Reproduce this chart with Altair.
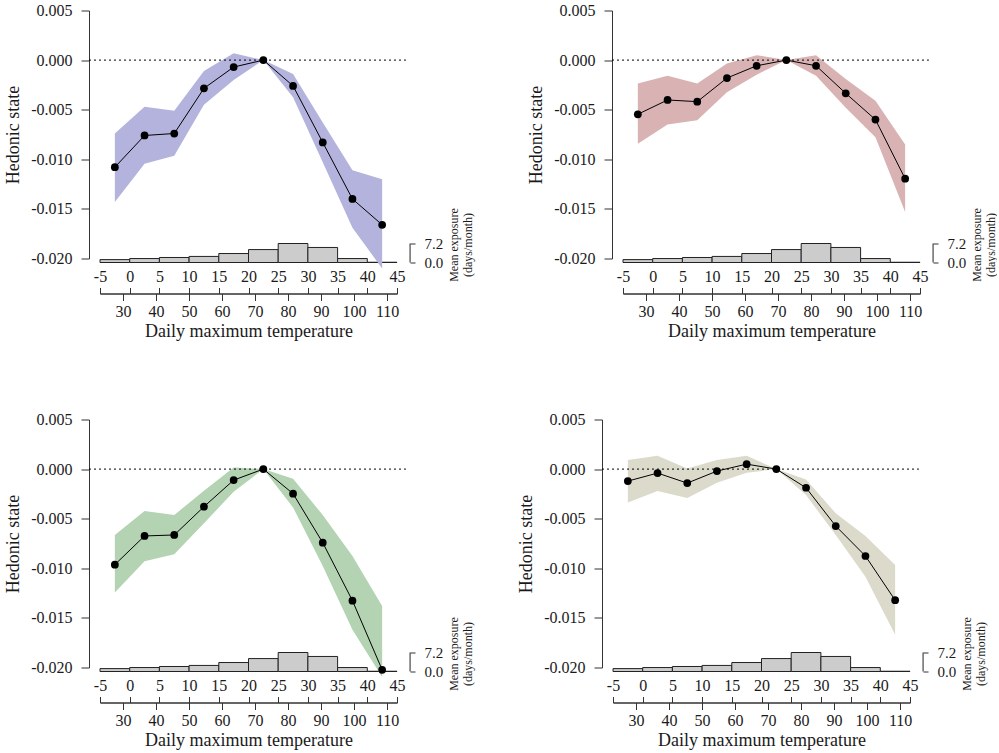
import altair as alt
import pandas as pd

# Temperature bins (daily maximum, degrees C) and their centres
bin_lo = [-5, 0, 5, 10, 15, 20, 25, 30, 35, 40]
bin_hi = [0, 5, 10, 15, 20, 25, 30, 35, 40, 45]
bin_mid = [-2.5, 2.5, 7.5, 12.5, 17.5, 22.5, 27.5, 32.5, 37.5, 42.5]

# Mean exposure per bin (days/month)
exposure = [1.1, 1.5, 1.9, 2.3, 3.4, 4.9, 7.2, 5.7, 1.5, 0.1]

# Tick values
fahrenheit_ticks = [30, 40, 50, 60, 70, 80, 90, 100, 110]
celsius_ticks = [-5, 0, 5, 10, 15, 20, 25, 30, 35, 40, 45]
hedonic_ticks = [0.005, 0.0, -0.005, -0.010, -0.015, -0.020]

# Panel A
est_a = [-0.0108, -0.0076, -0.0074, -0.00285, -0.0007, 0.0, -0.0026, -0.0083, -0.0140, -0.0166]
lo_a = [-0.0143, -0.01045, -0.00965, -0.0045, -0.0020, 0.0, -0.00375, -0.0103, -0.0169, -0.0210]
hi_a = [-0.0074, -0.0047, -0.0051, -0.0011, 0.0007, 0.0, -0.0014, -0.0063, -0.0111, -0.0120]

# Panel B
est_b = [-0.00546, -0.00402, -0.00419, -0.00181, -0.00057, 0.0, -0.00057, -0.00335, -0.0060, -0.01196]
lo_b = [-0.00844, -0.0065, -0.00606, -0.00325, -0.00147, 0.0, -0.00157, -0.0048, -0.00777, -0.01531]
hi_b = [-0.00235, -0.00157, -0.00235, -0.00034, 0.0005, 0.0, 0.0005, -0.0019, -0.00409, -0.00851]

# Panel C
est_c = [-0.00963, -0.00674, -0.00664, -0.00379, -0.00111, 0.0, -0.00248, -0.00742, -0.01326, -0.02023]
lo_c = [-0.01245, -0.0093, -0.00859, -0.00547, -0.00228, 0.0, -0.00386, -0.00977, -0.0162, -0.02097]
hi_c = [-0.00664, -0.00423, -0.00463, -0.00218, 0.00017, 0.0, -0.00097, -0.00463, -0.00876, -0.01379]

# Panel D
est_d = [-0.00121, -0.0004, -0.00141, -0.0002, 0.0005, 0.0, -0.00188, -0.00574, -0.00876, -0.01322]
lo_d = [-0.00336, -0.00221, -0.00292, -0.00138, -0.00037, 0.0, -0.00262, -0.00664, -0.01084, -0.01671]
hi_d = [0.00091, 0.00134, 0.00007, 0.00091, 0.00134, 0.0, -0.00104, -0.00446, -0.00674, -0.00966]

band_colors = ["#b3b3dd", "#d9b3b3", "#b3d3b3", "#dbdacb"]

FONT = "Liberation Serif, DejaVu Serif, serif"
INK = "#1a1a1a"
W, H = 297, 248
HIST_DROP = 4        # histogram baseline sits this far below the -0.020 tick
HIST_MAX_PX = 19     # pixel height of the tallest histogram bar
X_LEFT, X_RIGHT = -6.85, 46.5   # extent of the dotted zero line (degrees C)
BRACKET_X = 47.2                # exposure bracket position (degrees C)

neg_fix = "datum.value < 0 ? '-' + format(-datum.value, '{f}') : format(datum.value, '{f}')"


def panel(est, lo, hi, fill):
    df = pd.DataFrame({"t": bin_mid, "est": est, "lo": lo, "hi": hi})
    hist = pd.DataFrame({"b0": bin_lo, "b1": bin_hi, "days": exposure})
    zero = pd.DataFrame({"x0": [X_LEFT], "x1": [X_RIGHT], "y": [0.0]})
    bracket = pd.DataFrame({"x": [BRACKET_X], "y0": [0.0], "y1": [max(exposure)]})

    xs = alt.Scale(domain=[-5, 45], nice=False, zero=False)
    yh = alt.Scale(domain=[-0.020, 0.005], nice=False, zero=False)
    yd = alt.Scale(domain=[0, max(exposure)], nice=False,
                   range=[H + HIST_DROP, H + HIST_DROP - HIST_MAX_PX])

    y_axis = alt.Axis(orient="left", offset=11, values=hedonic_ticks,
                      labelExpr=neg_fix.format(f=".3f"), tickSize=8, labelPadding=9,
                      title="Hedonic state", titlePadding=8, grid=False)
    c_axis = alt.Axis(orient="top", offset=-(H + 35), values=celsius_ticks,
                      labelExpr=neg_fix.format(f="d"), tickSize=6, labelPadding=3,
                      title=None, grid=False, labelFlush=False, labelOverlap=False)
    f_axis = alt.Axis(orient="bottom", offset=35,
                      values=[(f - 32) * 5 / 9 for f in fahrenheit_ticks],
                      labelExpr="format(datum.value * 9 / 5 + 32, '.0f')",
                      tickSize=7, labelPadding=3, title="Daily maximum temperature",
                      titlePadding=3, grid=False, labelFlush=False, labelOverlap=False)
    e_axis = alt.Axis(orient="right", offset=13, values=[0, max(exposure)],
                      labelExpr="format(datum.value, '.1f')", tickSize=5, labelPadding=9,
                      labelFontSize=15, domain=False, grid=False, labelOverlap=False,
                      labelFlush=False,
                      title=["Mean exposure", "(days/month)"], titleFontSize=12,
                      titleAngle=270, titleX=43, titleY=H - 14,
                      titleAlign="center", titleBaseline="middle")

    bars = alt.Chart(hist).mark_bar(fill="#cccccc", stroke="#222222", strokeWidth=1).encode(
        x=alt.X("b0:Q", scale=xs, axis=None), x2="b1:Q",
        y=alt.Y("days:Q", scale=yd, axis=e_axis), y2=alt.datum(0))
    bracket_rule = alt.Chart(bracket).mark_rule(color="#222222", strokeWidth=1).encode(
        x=alt.X("x:Q", scale=xs, axis=None),
        y=alt.Y("y0:Q", scale=yd, axis=None), y2="y1:Q")
    band = alt.Chart(df).mark_area(color=fill, opacity=1).encode(
        x=alt.X("t:Q", scale=xs, axis=None),
        y=alt.Y("lo:Q", scale=yh, axis=y_axis), y2="hi:Q")
    zero_rule = alt.Chart(zero).mark_rule(color="black", strokeWidth=1,
                                          strokeDash=[2, 3]).encode(
        x=alt.X("x0:Q", scale=xs, axis=None), x2="x1:Q",
        y=alt.Y("y:Q", scale=yh, axis=None))
    line = alt.Chart(df).mark_line(color="black", strokeWidth=1).encode(
        x=alt.X("t:Q", scale=xs, axis=c_axis),
        y=alt.Y("est:Q", scale=yh, axis=None))
    pts = alt.Chart(df).mark_circle(color="black", opacity=1, size=60).encode(
        x=alt.X("t:Q", scale=xs, axis=f_axis),
        y=alt.Y("est:Q", scale=yh, axis=None))

    return (alt.layer(bars, bracket_rule, band, zero_rule, line, pts)
            .resolve_scale(y="independent")
            .resolve_axis(x="independent")
            .properties(width=W, height=H))


p1 = panel(est_a, lo_a, hi_a, band_colors[0])
p2 = panel(est_b, lo_b, hi_b, band_colors[1])
p3 = panel(est_c, lo_c, hi_c, band_colors[2])
p4 = panel(est_d, lo_d, hi_d, band_colors[3])

top = alt.hconcat(p1, p2, spacing=53)
bottom = alt.hconcat(p3, p4, spacing=43)

chart = (alt.vconcat(top, bottom, spacing=69)
         .properties(padding={"left": 4, "top": 1.5, "right": 0, "bottom": 0},
                     background="white")
         .configure_view(stroke="transparent")
         .configure_axis(labelFont=FONT, titleFont=FONT, labelFontSize=16,
                         titleFontSize=18, titleFontWeight="normal",
                         labelColor=INK, titleColor=INK, domainColor="#333333",
                         tickColor="#333333", domainWidth=1, tickWidth=1))

chart.save("out.html", embed_options={"renderer": "svg", "actions": False})
